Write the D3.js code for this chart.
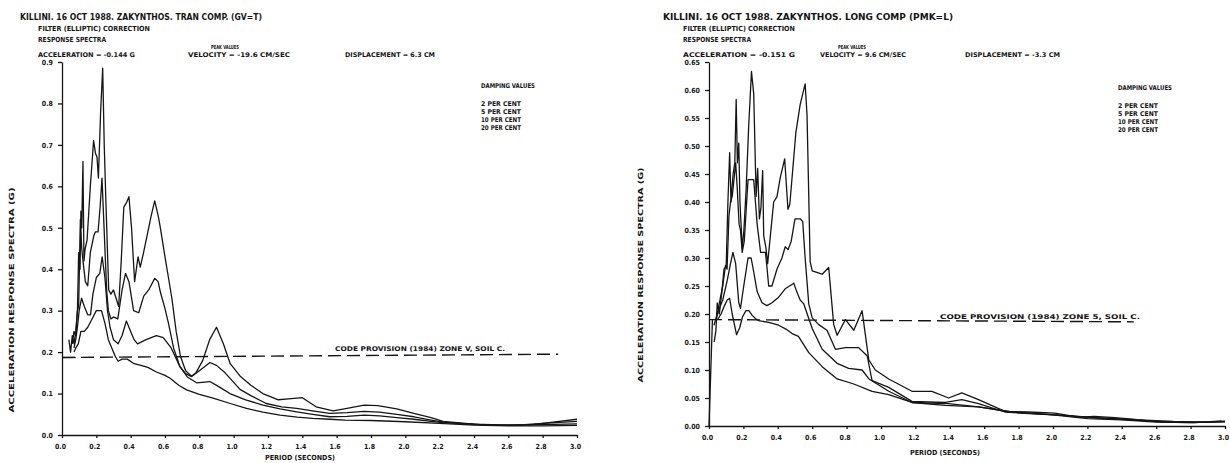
<!DOCTYPE html>
<html><head><meta charset="utf-8">
<script src="https://cdn.jsdelivr.net/npm/d3@7"></script>
<style>
html,body{margin:0;padding:0;background:#fff;}
svg text{font-family:"DejaVu Sans Condensed","DejaVu Sans",sans-serif;font-weight:bold;fill:#151515;}
</style></head><body>
<svg id="c" width="1230" height="463"></svg>
<script>
// ---------- data ----------
const periodTicks = [0,0.2,0.4,0.6,0.8,1.0,1.2,1.4,1.6,1.8,2.0,2.2,2.4,2.6,2.8,3.0];
const tranTicksY = [0,0.1,0.2,0.3,0.4,0.5,0.6,0.7,0.8,0.9];
const longTicksY = [0,0.05,0.10,0.15,0.20,0.25,0.30,0.35,0.40,0.45,0.50,0.55,0.60,0.65];
const dampingLabels = ["2    PER CENT","5    PER CENT","10  PER CENT","20  PER CENT"];

// Panel 1: transverse component, [period s, acceleration g]
const tranD2 = [[0.04,0.23],[0.05,0.20],[0.06,0.24],[0.07,0.22],[0.08,0.25],[0.09,0.30],[0.097,0.44],[0.105,0.40],[0.11,0.54],[0.115,0.50],[0.122,0.66],[0.128,0.42],[0.135,0.45],[0.146,0.47],[0.165,0.60],[0.184,0.71],[0.195,0.68],[0.204,0.67],[0.212,0.62],[0.225,0.78],[0.237,0.885],[0.246,0.70],[0.256,0.56],[0.272,0.35],[0.285,0.34],[0.30,0.35],[0.315,0.33],[0.33,0.31],[0.345,0.42],[0.36,0.55],[0.375,0.56],[0.39,0.575],[0.405,0.50],[0.423,0.37],[0.443,0.43],[0.456,0.405],[0.475,0.44],[0.495,0.48],[0.52,0.53],[0.54,0.565],[0.56,0.53],[0.573,0.50],[0.60,0.43],[0.62,0.38],[0.64,0.33],[0.665,0.25],[0.69,0.19],[0.72,0.155],[0.755,0.142],[0.78,0.15],[0.82,0.18],[0.86,0.23],[0.90,0.26],[0.94,0.22],[0.98,0.172],[1.04,0.141],[1.10,0.12],[1.17,0.10],[1.26,0.085],[1.32,0.087],[1.40,0.090],[1.48,0.068],[1.58,0.058],[1.66,0.064],[1.76,0.072],[1.84,0.071],[1.95,0.063],[2.05,0.052],[2.15,0.042],[2.22,0.033],[2.35,0.028],[2.47,0.024],[2.60,0.024],[2.74,0.025],[2.86,0.031],[3.0,0.038]];
const tranD5 = [[0.06,0.22],[0.07,0.25],[0.08,0.24],[0.09,0.30],[0.097,0.31],[0.107,0.52],[0.115,0.45],[0.125,0.41],[0.136,0.37],[0.15,0.36],[0.165,0.44],[0.175,0.46],[0.185,0.48],[0.194,0.49],[0.21,0.49],[0.222,0.55],[0.233,0.62],[0.24,0.55],[0.25,0.45],[0.26,0.35],[0.27,0.30],[0.285,0.28],[0.30,0.285],[0.325,0.28],[0.35,0.35],[0.37,0.39],[0.39,0.37],[0.417,0.30],[0.447,0.295],[0.476,0.335],[0.505,0.35],[0.54,0.378],[0.56,0.37],[0.573,0.345],[0.60,0.305],[0.62,0.27],[0.65,0.21],[0.687,0.165],[0.72,0.148],[0.755,0.141],[0.80,0.155],[0.862,0.175],[0.90,0.168],[0.95,0.15],[1.037,0.11],[1.10,0.095],[1.19,0.076],[1.28,0.068],[1.367,0.064],[1.46,0.058],[1.56,0.052],[1.66,0.054],[1.76,0.057],[1.85,0.055],[1.95,0.05],[2.05,0.044],[2.15,0.036],[2.22,0.031],[2.35,0.027],[2.5,0.024],[2.65,0.024],[2.8,0.028],[3.0,0.033]];
const tranD10 = [[0.07,0.21],[0.08,0.23],[0.09,0.26],[0.10,0.30],[0.114,0.33],[0.13,0.31],[0.15,0.29],[0.166,0.29],[0.18,0.34],[0.20,0.38],[0.22,0.39],[0.234,0.43],[0.25,0.38],[0.265,0.30],[0.28,0.26],[0.30,0.23],[0.327,0.22],[0.35,0.24],[0.375,0.275],[0.40,0.25],[0.42,0.23],[0.44,0.22],[0.49,0.23],[0.55,0.24],[0.59,0.235],[0.636,0.21],[0.687,0.165],[0.73,0.14],[0.784,0.126],[0.862,0.129],[0.92,0.115],[0.978,0.10],[1.07,0.085],[1.17,0.072],[1.27,0.063],[1.367,0.056],[1.46,0.05],[1.56,0.044],[1.66,0.045],[1.76,0.048],[1.85,0.046],[1.95,0.042],[2.05,0.038],[2.15,0.033],[2.22,0.03],[2.4,0.026],[2.6,0.024],[2.8,0.025],[3.0,0.027]];
const tranD20 = [[0.07,0.20],[0.08,0.21],[0.095,0.22],[0.11,0.25],[0.13,0.25],[0.15,0.26],[0.175,0.28],[0.20,0.30],[0.23,0.30],[0.25,0.27],[0.27,0.23],[0.29,0.21],[0.31,0.19],[0.327,0.178],[0.35,0.183],[0.38,0.183],[0.42,0.172],[0.46,0.168],[0.50,0.163],[0.55,0.152],[0.60,0.144],[0.63,0.137],[0.68,0.12],[0.726,0.109],[0.80,0.098],[0.88,0.089],[0.98,0.076],[1.075,0.064],[1.17,0.055],[1.27,0.048],[1.37,0.043],[1.46,0.04],[1.56,0.038],[1.65,0.036],[1.8,0.035],[2.0,0.032],[2.2,0.028],[2.4,0.024],[2.6,0.022],[2.8,0.022],[3.0,0.023]];
const tranCode = [[0,0.187],[2.89,0.195]];
const tranCodeSolid = [[0,0.187],[0.08,0.187]];

// Panel 2: longitudinal component
const longD2 = [[0.03,0.15],[0.04,0.17],[0.048,0.22],[0.06,0.20],[0.075,0.24],[0.087,0.28],[0.10,0.285],[0.11,0.40],[0.12,0.488],[0.128,0.40],[0.14,0.45],[0.15,0.47],[0.158,0.583],[0.165,0.47],[0.173,0.505],[0.18,0.40],[0.193,0.318],[0.203,0.35],[0.216,0.424],[0.231,0.537],[0.247,0.633],[0.26,0.593],[0.274,0.41],[0.283,0.46],[0.293,0.37],[0.302,0.39],[0.312,0.456],[0.318,0.34],[0.331,0.318],[0.341,0.29],[0.36,0.35],[0.376,0.40],[0.395,0.409],[0.414,0.443],[0.44,0.477],[0.459,0.387],[0.47,0.396],[0.505,0.524],[0.53,0.574],[0.559,0.611],[0.57,0.555],[0.588,0.294],[0.60,0.277],[0.658,0.271],[0.696,0.283],[0.725,0.181],[0.745,0.162],[0.793,0.19],[0.842,0.171],[0.89,0.206],[0.929,0.118],[0.967,0.10],[1.045,0.084],[1.18,0.062],[1.296,0.062],[1.393,0.05],[1.47,0.059],[1.567,0.047],[1.72,0.026],[1.857,0.025],[2.01,0.023],[2.15,0.016],[2.24,0.017],[2.36,0.015],[2.476,0.012],[2.63,0.007],[2.825,0.006],[2.98,0.009]];
const longD5 = [[0.029,0.18],[0.048,0.20],[0.067,0.23],[0.08,0.25],[0.096,0.287],[0.105,0.28],[0.116,0.375],[0.125,0.40],[0.135,0.41],[0.145,0.44],[0.155,0.47],[0.165,0.42],[0.175,0.36],[0.183,0.35],[0.193,0.31],[0.205,0.33],[0.215,0.38],[0.227,0.44],[0.26,0.44],[0.27,0.40],[0.28,0.36],[0.30,0.31],[0.328,0.31],[0.335,0.29],[0.347,0.25],[0.366,0.25],[0.395,0.28],[0.424,0.30],[0.443,0.32],[0.46,0.315],[0.478,0.33],[0.50,0.37],[0.53,0.37],[0.545,0.365],[0.559,0.30],[0.58,0.218],[0.60,0.193],[0.638,0.181],[0.686,0.171],[0.735,0.137],[0.793,0.14],[0.87,0.14],[0.92,0.125],[0.948,0.081],[1.045,0.069],[1.18,0.044],[1.374,0.042],[1.47,0.047],[1.567,0.04],[1.72,0.025],[1.86,0.022],[2.0,0.02],[2.2,0.013],[2.4,0.011],[2.6,0.007],[2.8,0.006],[3.0,0.008]];
const longD10 = [[0.04,0.19],[0.06,0.21],[0.08,0.225],[0.106,0.26],[0.125,0.29],[0.139,0.31],[0.155,0.29],[0.173,0.22],[0.183,0.21],[0.202,0.25],[0.227,0.30],[0.245,0.30],[0.26,0.275],[0.28,0.24],[0.308,0.22],[0.337,0.215],[0.366,0.22],[0.405,0.23],[0.443,0.245],[0.493,0.255],[0.51,0.24],[0.53,0.225],[0.551,0.218],[0.60,0.174],[0.658,0.137],[0.745,0.112],[0.812,0.103],[0.89,0.10],[0.93,0.084],[1.045,0.062],[1.18,0.042],[1.39,0.04],[1.567,0.034],[1.76,0.025],[1.9,0.022],[2.1,0.018],[2.3,0.013],[2.5,0.01],[2.7,0.007],[2.9,0.007],[3.0,0.008]];
const longD20 = [[0.05,0.19],[0.07,0.20],[0.09,0.215],[0.106,0.225],[0.12,0.228],[0.135,0.20],[0.16,0.163],[0.178,0.175],[0.195,0.195],[0.215,0.206],[0.232,0.206],[0.25,0.198],[0.27,0.192],[0.289,0.188],[0.347,0.185],[0.405,0.18],[0.453,0.172],[0.483,0.165],[0.52,0.16],[0.58,0.131],[0.658,0.106],[0.745,0.084],[0.842,0.075],[0.948,0.062],[1.045,0.056],[1.18,0.042],[1.374,0.037],[1.567,0.034],[1.76,0.025],[1.9,0.022],[2.1,0.018],[2.3,0.014],[2.5,0.011],[2.7,0.008],[2.9,0.007],[3.0,0.008]];
const longCode = [[0,0.19],[2.47,0.186]];
const longCodeRamp = [[0,0.0],[0.02,0.19]];

// ---------- drawing ----------
const svg = d3.select("#c");

function txt(x, y, s, len, size, anchor, rot) {
  const t = svg.append("text").attr("x", x).attr("y", y).text(s)
    .attr("font-size", size || 7).attr("text-anchor", anchor || "start");
  if (len) t.attr("textLength", len).attr("lengthAdjust", "spacingAndGlyphs");
  if (rot) t.attr("transform", `rotate(${rot},${x},${y})`);
  return t;
}

function drawPanel(p) {
  const x = d3.scaleLinear().domain([0, 3]).range([p.x0, p.x1]);
  const y = d3.scaleLinear().domain([0, p.ymax]).range([p.y0, p.y1]);
  const g = svg.append("g");

  const ya = g.append("g").attr("transform", `translate(${p.x0},0)`)
    .call(d3.axisLeft(y).tickValues(p.yTicks).tickSize(4).tickSizeOuter(0).tickFormat(d3.format(p.yFmt)));
  const xa = g.append("g").attr("transform", `translate(0,${p.y0})`)
    .call(d3.axisBottom(x).tickValues(periodTicks).tickSize(3).tickSizeOuter(0).tickFormat(d3.format(".1f")));
  [ya, xa].forEach(a => {
    a.selectAll("path,line").attr("stroke", "#151515").attr("stroke-width", 1.3);
    a.selectAll("text").attr("font-family", '"DejaVu Sans Condensed","DejaVu Sans",sans-serif')
      .attr("font-weight", "bold").attr("font-size", 7).attr("fill", "#151515");
  });
  xa.selectAll("text").attr("dy", "1.2em").attr("dx", -2);
  ya.selectAll("text").attr("dx", -2);

  const line = d3.line().x(d => x(d[0])).y(d => y(d[1]));
  p.series.forEach(s => {
    g.append("path").datum(s).attr("d", line).attr("fill", "none")
      .attr("stroke", "#151515").attr("stroke-width", 1.3).attr("stroke-linejoin", "round");
  });
  g.append("path").datum(p.code).attr("d", line).attr("fill", "none")
    .attr("stroke", "#151515").attr("stroke-width", 1.4).attr("stroke-dasharray", "13,6");
  (p.solids || []).forEach(s => g.append("path").datum(s).attr("d", line).attr("fill", "none")
    .attr("stroke", "#151515").attr("stroke-width", 1.3));

  // texts
  txt(p.tx, p.tyTitle, p.title, p.titleLen, 8);
  txt(p.tx2, p.tyTitle + 11, "FILTER (ELLIPTIC) CORRECTION", 112, 7);
  txt(p.tx2, p.tyTitle + 22, "RESPONSE  SPECTRA", 68, 7);
  txt(p.peakX, p.tyTitle + 29, "PEAK VALUES", 28, 5.5, "middle");
  txt(p.tx2, p.tyTitle + 37, p.acc, p.accLen, 6.5);
  txt(p.velX, p.tyTitle + 37, p.vel, p.velLen, 6.5);
  txt(p.dispX, p.tyTitle + 37, p.disp, p.dispLen, 6.5);
  txt(p.dampX, p.dampY, "DAMPING VALUES", 54, 6.5);
  dampingLabels.forEach((s, i) => txt(p.dampX, p.dampY + 18 + i * 8, s, 40, 6.5));
  txt(p.codeX, p.codeY, p.codeText, p.codeLen, 6.5);
  txt(p.ylabX, p.ylabY, "ACCELERATION RESPONSE SPECTRA  (G)", p.ylabLen, 7, "middle", -90);
  txt(p.xlabX, p.xlabY, "PERIOD  (SECONDS)", 70, 7, "middle");
}

drawPanel({
  x0: 62, x1: 577, y0: 435, y1: 62, ymax: 0.9, yTicks: tranTicksY, yFmt: ".1f",
  series: [tranD2, tranD5, tranD10, tranD20], code: tranCode, solids: [tranCodeSolid],
  title: "KILLINI.  16 OCT 1988.  ZAKYNTHOS.    TRAN COMP.  (GV=T)", titleLen: 242,
  tx: 20, tx2: 38, tyTitle: 20, peakX: 225,
  acc: "ACCELERATION  =  -0.144   G", accLen: 97,
  vel: "VELOCITY  =  -19.6    CM/SEC", velX: 188, velLen: 102,
  disp: "DISPLACEMENT  =  6.3    CM", dispX: 345, dispLen: 90,
  dampX: 481, dampY: 88,
  codeText: "CODE   PROVISION  (1984)   ZONE V,  SOIL C.", codeX: 335, codeY: 351, codeLen: 170,
  ylabX: 14, ylabY: 300, ylabLen: 225, xlabX: 300, xlabY: 460
});

drawPanel({
  x0: 709, x1: 1225, y0: 426, y1: 62, ymax: 0.65, yTicks: longTicksY, yFmt: ".2f",
  series: [longD2, longD5, longD10, longD20], code: longCode, solids: [longCodeRamp],
  title: "KILLINI. 16 OCT 1988.  ZAKYNTHOS.  LONG COMP (PMK=L)", titleLen: 290,
  tx: 663, tx2: 683, tyTitle: 20, peakX: 852,
  acc: "ACCELERATION  =  -0.151   G", accLen: 112,
  vel: "VELOCITY  =  9.6     CM/SEC", velX: 820, velLen: 86,
  disp: "DISPLACEMENT  =   -3.3    CM", dispX: 965, dispLen: 95,
  dampX: 1118, dampY: 90,
  codeText: "CODE   PROVISION  (1984)   ZONE 5,  SOIL C.", codeX: 940, codeY: 319, codeLen: 200,
  ylabX: 643, ylabY: 275, ylabLen: 215, xlabX: 945, xlabY: 455
});
</script>
</body></html>
